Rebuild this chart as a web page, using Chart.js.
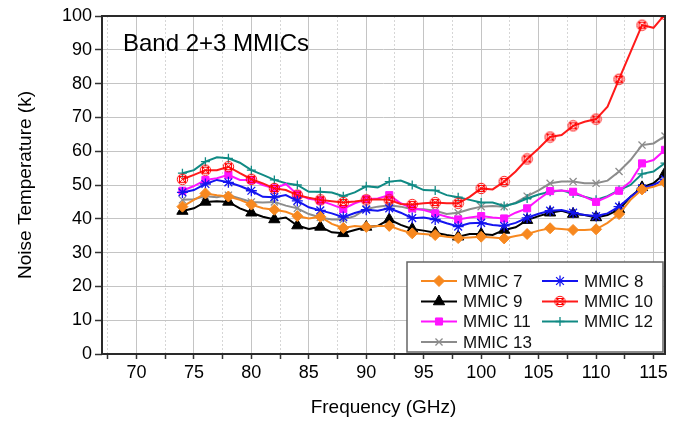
<!DOCTYPE html>
<html>
<head>
<meta charset="utf-8">
<script src="https://cdn.jsdelivr.net/npm/chart.js@4.4.1/dist/chart.umd.min.js"></script>
<style>
  html, body { margin: 0; padding: 0; background: #fff; }
  #wrap { width: 688px; height: 424px; }
</style>
</head>
<body>
<div id="wrap"><canvas id="noiseChart" width="688" height="424"></canvas></div>
<script>
// ============================================================
// DATA
// ============================================================
const freqGHz = [74, 75, 76, 77, 78, 79, 80, 81, 82, 83, 84, 85, 86, 87, 88, 89, 90, 91, 92, 93, 94,
                 95, 96, 97, 98, 99, 100, 101, 102, 103, 104, 105, 106, 107, 108, 109, 110, 111, 112, 113, 114, 115, 116];

const mmic7  = [43.6, 45.6, 47.5, 47.0, 46.6, 45.6, 44.2, 43.1, 42.7, 42.1, 40.8, 40.1, 40.6, 38.5, 37.3, 37.9, 37.6, 37.9, 37.9, 36.7, 35.7,
                35.5, 35.2, 34.7, 34.3, 34.5, 34.7, 34.5, 34.2, 34.9, 35.5, 36.5, 37.2, 37.0, 36.7, 36.7, 36.9, 38.8, 41.4, 45.6, 48.7, 49.5, 50.7];
const mmic8  = [47.8, 48.5, 50.3, 51.5, 50.8, 49.7, 48.3, 46.5, 46.4, 47.0, 45.3, 43.4, 42.5, 41.6, 40.5, 41.7, 42.7, 42.4, 43.1, 41.8, 40.2,
                40.4, 39.8, 38.7, 37.7, 38.7, 38.8, 38.2, 37.9, 38.8, 40.3, 41.5, 42.4, 42.6, 41.8, 41.1, 40.8, 41.6, 43.6, 46.5, 49.0, 50.0, 51.7];
const mmic9  = [42.3, 43.1, 45.0, 45.2, 45.0, 43.1, 41.8, 40.6, 39.8, 40.4, 38.0, 37.0, 37.6, 36.0, 35.7, 36.7, 37.6, 37.9, 39.8, 38.2, 37.0,
                36.5, 35.9, 35.2, 34.7, 35.5, 35.5, 35.2, 36.7, 37.5, 39.6, 40.8, 41.8, 42.4, 41.4, 41.1, 40.4, 41.1, 42.8, 46.5, 49.3, 50.5, 53.5];
const mmic10 = [51.7, 53.0, 54.4, 54.4, 55.4, 53.5, 51.7, 50.5, 49.0, 48.5, 47.0, 46.2, 45.6, 45.2, 44.8, 45.1, 45.6, 45.8, 45.6, 44.4, 44.2,
                44.6, 44.8, 44.6, 44.6, 46.5, 49.0, 48.7, 51.0, 54.0, 57.7, 60.8, 64.2, 64.8, 67.5, 68.7, 69.5, 73.2, 81.3, 89.3, 97.3, 96.5, 100.5];
const mmic11 = [48.3, 49.7, 51.5, 52.0, 53.0, 51.5, 51.5, 50.0, 49.0, 50.3, 47.2, 45.9, 45.4, 44.2, 42.9, 44.6, 45.8, 46.0, 47.0, 44.6, 43.1,
                42.6, 41.6, 40.6, 39.8, 40.4, 40.8, 40.4, 40.1, 41.8, 43.1, 45.8, 48.2, 48.4, 48.0, 46.5, 45.0, 46.5, 48.3, 51.0, 56.4, 57.4, 60.4];
const mmic12 = [53.5, 54.4, 56.9, 58.2, 57.9, 56.6, 54.4, 53.0, 51.5, 50.5, 50.0, 48.0, 48.0, 47.8, 46.7, 47.8, 49.6, 49.3, 51.0, 51.3, 50.0,
                48.5, 48.4, 47.0, 46.4, 45.6, 44.8, 44.8, 43.8, 44.6, 46.0, 47.2, 48.0, 48.4, 47.5, 46.5, 45.6, 46.7, 48.5, 50.0, 53.3, 54.0, 56.5];
const mmic13 = [45.6, 45.8, 46.7, 46.4, 47.0, 46.0, 45.0, 44.8, 45.0, 43.9, 43.1, 41.4, 40.4, 39.8, 39.8, 40.8, 42.9, 43.6, 44.0, 43.6, 42.8,
                42.8, 42.4, 41.4, 41.8, 42.8, 43.6, 43.8, 43.6, 44.8, 46.7, 48.4, 50.5, 51.0, 51.0, 50.5, 50.5, 51.3, 54.0, 57.4, 61.8, 62.3, 64.5];

const xTicks = [67.5, 70, 72.5, 75, 77.5, 80, 82.5, 85, 87.5, 90, 92.5, 95, 97.5, 100, 102.5, 105, 107.5, 110, 112.5, 115];
const yTicks = [0, 5, 10, 15, 20, 25, 30, 35, 40, 45, 50, 55, 60, 65, 70, 75, 80, 85, 90, 95, 100];

const PLOT_TITLE = "Band 2+3 MMICs";
const FONT = "'Liberation Sans', Arial, sans-serif";

// Red "circle with cross in a square" marker
function makeRedMarker() {
    const c = document.createElement("canvas");
    c.width = 13; c.height = 13;
    const g = c.getContext("2d");
    g.strokeStyle = "#ff0000";
    g.lineWidth = 1;
    g.strokeRect(3.5, 3.5, 6, 6);
    g.beginPath();
    g.arc(6.5, 6.5, 5.2, 0, Math.PI * 2);
    g.stroke();
    g.beginPath();
    g.moveTo(3, 3); g.lineTo(10, 10);
    g.moveTo(10, 3); g.lineTo(3, 10);
    g.stroke();
    return c;
}

const SERIES = [
    { label: "MMIC 7",  data: mmic7,  color: "#f7881f", style: "rectRot",  r: 5.5, fill: true },
    { label: "MMIC 8",  data: mmic8,  color: "#1414f0", style: "star",     r: 5.5, fill: false },
    { label: "MMIC 9",  data: mmic9,  color: "#000000", style: "triangle", r: 6.5, fill: true },
    { label: "MMIC 10", data: mmic10, color: "#ff1a1a", style: makeRedMarker(), r: 5, fill: false },
    { label: "MMIC 11", data: mmic11, color: "#ff14ff", style: "rect",     r: 5,   fill: true },
    { label: "MMIC 12", data: mmic12, color: "#108a84", style: "cross",    r: 4.5, fill: false },
    { label: "MMIC 13", data: mmic13, color: "#8c8c8c", style: "crossRot", r: 5,   fill: false }
];

// ============================================================
// PLUGINS: frame + inset title, inset legend
// ============================================================
const framePlugin = {
    id: "frame",
    afterDatasetsDraw(chart) {
        const { ctx, chartArea: a } = chart;
        ctx.save();
        ctx.strokeStyle = "#2a2a2a";
        ctx.lineWidth = 2;
        ctx.strokeRect(a.left, a.top, a.right - a.left, a.bottom - a.top);
        ctx.fillStyle = "#000";
        ctx.font = "24px " + FONT;
        ctx.textBaseline = "alphabetic";
        ctx.fillText(PLOT_TITLE, 123, 51);
        ctx.restore();
    }
};

const insetLegend = {
    id: "insetLegend",
    afterDatasetsDraw(chart) {
        const ctx = chart.ctx;
        const box = { x: 407, y: 262, w: 256, h: 90 };
        ctx.save();
        ctx.fillStyle = "#fff";
        ctx.fillRect(box.x, box.y, box.w, box.h);
        ctx.strokeStyle = "#666";
        ctx.lineWidth = 1.5;
        ctx.strokeRect(box.x, box.y, box.w, box.h);

        const colX = [421, 542];
        const rowY = [281, 301.5, 321.5, 342];
        ctx.font = "17px " + FONT;
        ctx.textBaseline = "middle";
        chart.data.datasets.forEach((ds, i) => {
            const x0 = colX[i % 2];
            const y0 = rowY[Math.floor(i / 2)];
            ctx.strokeStyle = ds.borderColor;
            ctx.lineWidth = 2;
            ctx.beginPath();
            ctx.moveTo(x0, y0);
            ctx.lineTo(x0 + 36, y0);
            ctx.stroke();
            ctx.fillStyle = ds.pointBackgroundColor;
            ctx.strokeStyle = ds.pointBorderColor;
            ctx.lineWidth = ds.pointBorderWidth;
            Chart.helpers.drawPoint(ctx, {
                pointStyle: ds.pointStyle, radius: ds._r, rotation: 0, borderWidth: ds.pointBorderWidth
            }, x0 + 18, y0);
            ctx.fillStyle = "#111";
            ctx.fillText(ds.label, x0 + 42, y0 + 1);
        });
        ctx.restore();
    }
};

// ============================================================
// CHART
// ============================================================
Chart.defaults.font.family = FONT;
Chart.defaults.color = "#000";

const datasets = SERIES.map(s => ({
    label: s.label,
    data: freqGHz.map((f, i) => ({ x: f, y: s.data[i] })),
    borderColor: s.color,
    borderWidth: 2,
    tension: 0,
    pointStyle: s.style,
    pointBackgroundColor: s.fill ? s.color : "rgba(0,0,0,0)",
    pointBorderColor: s.color,
    pointBorderWidth: s.fill ? 1 : 1.3,
    pointRadius: c => (c.raw && c.raw.x % 2 === 0) ? s.r : 0,
    pointHoverRadius: 0,
    _r: s.r
}));

new Chart(document.getElementById("noiseChart"), {
    type: "line",
    data: { datasets },
    options: {
        responsive: false,
        animation: false,
        events: [],
        devicePixelRatio: 1,
        layout: { padding: { top: 16, right: 23, left: 0, bottom: 0 } },
        plugins: { legend: { display: false }, tooltip: { enabled: false } },
        scales: {
            x: {
                type: "linear",
                min: 67,
                max: 116,
                afterBuildTicks: s => { s.ticks = xTicks.map(v => ({ value: v })); },
                afterFit: s => { s.height = 70; },
                ticks: {
                    autoSkip: false, maxRotation: 0, padding: 3,
                    font: { size: 18 }, color: "#000",
                    callback: v => (v % 5 === 0 ? String(v) : "")
                },
                grid: {
                    color: c => (c.tick && c.tick.value % 5 ? "#d6d6d6" : "#c4c4c4"),
                    lineWidth: 1,
                    tickLength: 5,
                    tickColor: "#333",
                    tickWidth: 1.5
                },
                border: { display: false, dash: c => (c.tick && c.tick.value % 5 ? [2, 2] : []) },
                title: {
                    display: true, text: "Frequency (GHz)", color: "#000",
                    font: { size: 19 }, padding: { top: 0, bottom: 5 }
                }
            },
            y: {
                type: "linear",
                min: 0,
                max: 100,
                afterBuildTicks: s => { s.ticks = yTicks.map(v => ({ value: v })); },
                afterFit: s => { s.width = 102; },
                ticks: {
                    padding: 3, font: { size: 18 }, color: "#000",
                    callback: v => (v % 10 === 0 ? String(v) : "")
                },
                grid: {
                    color: c => (c.tick && c.tick.value % 10 ? "#d6d6d6" : "#c4c4c4"),
                    lineWidth: 1,
                    tickLength: 7,
                    tickColor: "#333",
                    tickWidth: 1.5
                },
                border: { display: false, dash: c => (c.tick && c.tick.value % 10 ? [2, 2] : []) },
                title: {
                    display: true, text: "Noise Temperature (k)", color: "#000",
                    font: { size: 19 }, padding: { top: 14, bottom: 0 }
                }
            }
        }
    },
    plugins: [framePlugin, insetLegend]
});
</script>
</body>
</html>
